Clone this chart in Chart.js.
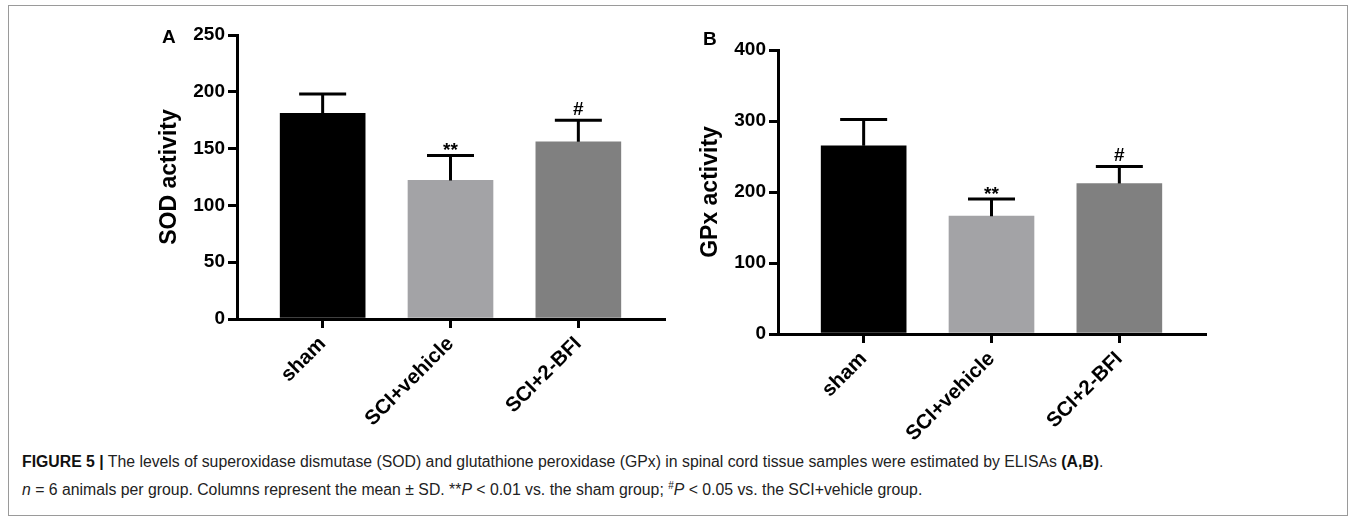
<!DOCTYPE html>
<html>
<head>
<meta charset="utf-8">
<script src="https://cdn.jsdelivr.net/npm/chart.js@4.4.1/dist/chart.umd.min.js"></script>
<style>
  body { margin: 0; background: #fff; width: 1355px; height: 523px; position: relative; overflow: hidden; font-family: "Liberation Sans", Arial, sans-serif; }
  .frame { position: absolute; left: 8px; top: 5px; width: 1338px; height: 509px; border: 1px solid #9a9a9a; }
  .panel { position: absolute; font-weight: bold; font-size: 19px; line-height: 1; color: #000; }
  canvas { position: absolute; top: 0; }
  #chartA { left: 0; }
  #chartB { left: 541px; }
  .caption { position: absolute; left: 22px; font-size: 15.8px; color: #222; white-space: nowrap; line-height: 20px; }
  .caption b { color: #111; }
</style>
</head>
<body>
<div class="frame"></div>
<canvas id="chartA" width="680" height="450"></canvas>
<canvas id="chartB" width="680" height="450"></canvas>
<div class="panel" style="left:162px;top:27px;">A</div>
<div class="panel" style="left:703px;top:29px;">B</div>
<div class="caption" style="top:452px;"><b>FIGURE 5 |</b> The levels of superoxidase dismutase (SOD) and glutathione peroxidase (GPx) in spinal cord tissue samples were estimated by ELISAs <b>(A,B)</b>.</div>
<div class="caption" style="top:476px;"><i>n</i> = 6 animals per group. Columns represent the mean &plusmn; SD. **<i>P</i> &lt; 0.01 vs. the sham group; <sup style="font-size:10px">#</sup><i>P</i> &lt; 0.05 vs. the SCI+vehicle group.</div>

<script>
// data
const categories = ['sham', 'SCI+vehicle', 'SCI+2-BFI'];
const sodMean = [181, 122, 156];
const sodSd = [17, 22, 19];
const gpxMean = [265, 166, 212];
const gpxSd = [37, 24, 24];
const marks = ['', '**', '#'];
const sodTicks = [0, 50, 100, 150, 200, 250];
const gpxTicks = [0, 100, 200, 300, 400];

const barColors = ['#000000', '#a3a3a6', '#808080'];
const fontFamily = '"Liberation Sans", Arial, sans-serif';

// error bars (upper only) and significance marks
const errorBars = {
    id: 'errorBars',
    afterDatasetsDraw(chart, args, opts) {
        const ctx = chart.ctx;
        const x = chart.scales.x, y = chart.scales.y;
        ctx.save();
        ctx.strokeStyle = '#000';
        ctx.lineWidth = 3;
        opts.means.forEach(function(m, i) {
            const px = x.getPixelForValue(i);
            const top = y.getPixelForValue(m + opts.sds[i]);
            ctx.beginPath();
            ctx.moveTo(px, y.getPixelForValue(m));
            ctx.lineTo(px, top);
            ctx.moveTo(px - 23.5, top);
            ctx.lineTo(px + 23.5, top);
            ctx.stroke();
            if (opts.marks[i]) {
                ctx.fillStyle = '#000';
                ctx.font = 'bold 19px ' + fontFamily;
                ctx.textAlign = 'center';
                ctx.textBaseline = 'alphabetic';
                ctx.fillText(opts.marks[i], px, opts.marks[i] === '#' ? top - 5 : top + 1);
            }
        });
        ctx.restore();
    }
};

function makeChart(id, means, sds, ticks, title, padTop) {
    const ctx = document.getElementById(id).getContext('2d');
    return new Chart(ctx, {
        type: 'bar',
        data: {
            datasets: [{
                data: categories.map(function(c, i) { return { x: i, y: means[i] }; }),
                backgroundColor: barColors,
                borderWidth: 0,
                barThickness: 85
            }]
        },
        options: {
            responsive: false,
            animation: false,
            layout: { padding: { left: 156, top: padTop, right: 16, bottom: 0 } },
            scales: {
                x: {
                    type: 'linear',
                    min: -0.67,
                    max: 2.67,
                    offset: false,
                    afterBuildTicks: function(scale) {
                        scale.ticks = categories.map(function(c, i) { return { value: i }; });
                    },
                    afterFit: function(scale) { scale.height = 450 - 319 - (padTop - 35); },
                    grid: { display: true, offset: false, drawOnChartArea: false, drawTicks: true, tickLength: 9, lineWidth: 3, color: '#000' },
                    border: { display: true, width: 3, color: '#000' },
                    ticks: {
                        color: '#000',
                        autoSkip: false,
                        minRotation: 45,
                        maxRotation: 45,
                        padding: 4,
                        font: { family: fontFamily, size: 20.5, weight: 'bold' },
                        callback: function(v) { return categories[v]; }
                    }
                },
                y: {
                    min: ticks[0],
                    max: ticks[ticks.length - 1],
                    afterBuildTicks: function(scale) {
                        scale.ticks = ticks.map(function(v) { return { value: v }; });
                    },
                    afterFit: function(scale) { scale.width = 81; },
                    grid: { display: true, drawOnChartArea: false, drawTicks: true, tickLength: 9, lineWidth: 3, color: '#000' },
                    border: { display: true, width: 3, color: '#000' },
                    ticks: {
                        color: '#000',
                        padding: 3,
                        font: { family: fontFamily, size: 19, weight: 'bold' }
                    },
                    title: {
                        display: true,
                        text: title,
                        color: '#000',
                        padding: 0,
                        font: { family: fontFamily, size: 23, weight: 'bold' }
                    }
                }
            },
            plugins: {
                legend: { display: false },
                tooltip: { enabled: false },
                errorBars: { means: means, sds: sds, marks: marks }
            }
        },
        plugins: [errorBars]
    });
}

makeChart('chartA', sodMean, sodSd, sodTicks, 'SOD activity', 35);
makeChart('chartB', gpxMean, gpxSd, gpxTicks, 'GPx activity', 50);
</script>
</body>
</html>
